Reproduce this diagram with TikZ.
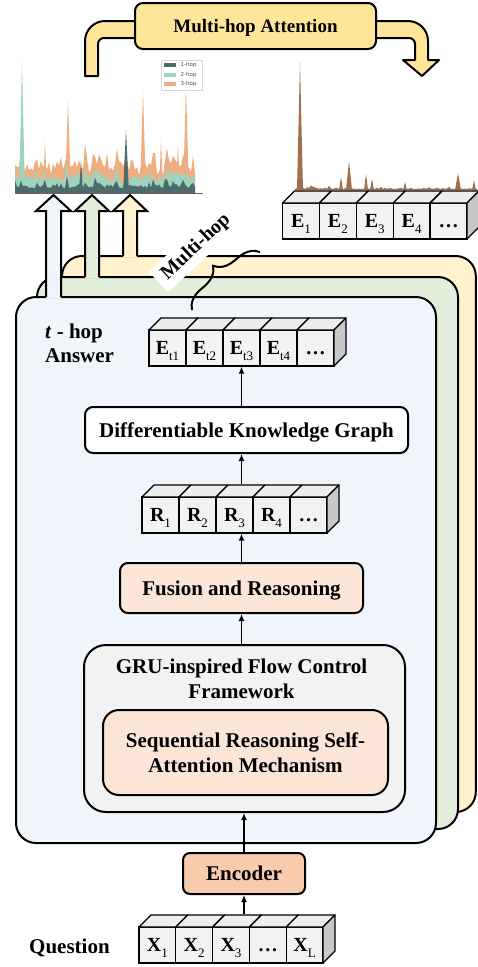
\documentclass[tikz,border=0pt]{standalone}
\usepackage{fontspec}
\setmainfont{Liberation Serif}
\newfontfamily\legfont{DejaVu Sans}
\usetikzlibrary{arrows.meta,decorations.pathreplacing,calc}
\definecolor{bandY}{HTML}{FFE599}
\definecolor{panY}{HTML}{FFF2CC}
\definecolor{panG}{HTML}{E2EFDA}
\definecolor{panB}{HTML}{EFF5FB}
\definecolor{gruF}{HTML}{F2F2F2}
\definecolor{peach}{HTML}{FBE5D6}
\definecolor{encF}{HTML}{F8CBAD}
\definecolor{hopA}{HTML}{4E6B6B}
\definecolor{hopB}{HTML}{9DD3BF}
\definecolor{hopC}{HTML}{EFAE80}
\definecolor{brn}{HTML}{A0704D}
\definecolor{cubefront}{HTML}{F2F2F2}
\definecolor{cubetop}{HTML}{EEEEEE}
\definecolor{cubeside}{HTML}{C8C8C8}
\newcommand\sbx[1]{\raisebox{-0.3em}{\fontsize{13}{13}\selectfont\mdseries #1}}
\newcommand\cuberow[5]{%
  \foreach \lab [count=\k] in {#5} {
    \node[cell, minimum width=#4pt] (#1-\k) at ({#2+(\k-0.5)*#4},{#3+18}) {\lab};
    \draw[cubeln, fill=cubetop] ({#2+(\k-1)*#4},#3) -- ++(12,-12) -- ++(#4,0) -- ++(-12,12) -- cycle;
  }
  \draw[cubeln, fill=cubeside] ({#2+5*#4},#3) -- ++(12,-12) -- ++(0,36) -- ++(-12,12) -- cycle;
}
\tikzset{
  cell/.style={draw, line width=1.3pt, fill=cubefront, minimum height=36pt, inner sep=0pt,
    font=\fontsize{20}{20}\selectfont\bfseries, text height=13.5pt, text depth=0pt},
  cubeln/.style={line width=1.3pt, line join=round},
  lbl/.style={font=\fontsize{21}{25}\selectfont\bfseries},
  bx/.style={draw, line width=2pt, rounded corners=8pt, inner sep=0pt, lbl, text height=14pt, text depth=0pt},
  panel/.style={draw, line width=2pt, rounded corners=20pt, inner sep=0pt},
  flow/.style={line width=1.9pt, -{Latex[length=7pt,width=6pt]}},
  hollow/.style={line width=2pt, line join=miter},
  legtxt/.style={font=\legfont\fontsize{5.5}{6}\selectfont, text=black!70, inner sep=0pt, anchor=west}
}
\begin{document}
\begin{tikzpicture}[x=1pt,y=-1pt]
\useasboundingbox (0,0) rectangle (477,967);

% ---- top multi-hop attention band
\draw[line width=2pt, fill=bandY, line join=round]
  (85,76) [rounded corners=20pt] -- (85,21) -- (428,21) [sharp corners] -- (428,60) -- (439,60) -- (422,76) -- (403,60) -- (415,60) [rounded corners=6pt] -- (415,38) -- (98,38) [sharp corners] -- (98,76) -- cycle;
\node[bx, fill=bandY, minimum width=241pt, minimum height=46pt, font=\fontsize{19}{22}\selectfont\bfseries, text height=13pt] (title) at (255.5,26) {Multi-hop Attention};

% ---- left stacked chart
\pgfmathsetseed{11}
\fill[hopC] (15,193) \foreach \i [evaluate=\i as \ha using {5+13*rnd*rnd}, evaluate=\i as \hb using {4+10*rnd}, evaluate=\i as \hc using {7+25*rnd*rnd}] in {0,...,90} { -- ({15+2*\i},{193-\ha-\hb-\hc}) } -- (195,193) -- cycle;
\fill[hopC] (65,193) -- (68,100) -- (71,193) -- cycle;
\fill[hopC] (140,193) -- (143,90) -- (146,193) -- cycle;
\fill[hopC] (183,193) -- (186,87) -- (189,193) -- cycle;
\fill[hopC] (43,193) -- (45,140) -- (47,193) -- cycle;
\fill[hopC] (159,193) -- (161,138) -- (163,193) -- cycle;
\fill[hopC] (176,193) -- (178,142) -- (180,193) -- cycle;
\pgfmathsetseed{11}
\fill[hopB] (15,193) \foreach \i [evaluate=\i as \ha using {5+13*rnd*rnd}, evaluate=\i as \hb using {4+10*rnd}, evaluate=\i as \hc using {7+25*rnd*rnd}] in {0,...,90} { -- ({15+2*\i},{193-\ha-\hb}) } -- (195,193) -- cycle;
\fill[hopB] (19,193) -- (22,63) -- (25,193) -- cycle;
\pgfmathsetseed{11}
\fill[hopA] (15,193) \foreach \i [evaluate=\i as \ha using {5+13*rnd*rnd}, evaluate=\i as \hb using {4+10*rnd}, evaluate=\i as \hc using {7+25*rnd*rnd}] in {0,...,90} { -- ({15+2*\i},{193-\ha}) } -- (195,193) -- cycle;
\fill[hopA] (123,193) -- (126,130) -- (129,193) -- cycle;
\fill[hopA] (79,193) -- (81,160) -- (83,193) -- cycle;
\draw[black!60, line width=0.8pt] (15,193) -- (203,193);
% legend
\node[draw=black!15, fill=white, line width=0.5pt, minimum width=41pt, minimum height=30pt, inner sep=0pt] (leg) at (181.5,75) {};
\fill[hopA] (163.5,63) rectangle (176,67);
\fill[hopB] (163.5,72.5) rectangle (176,76.5);
\fill[hopC] (163.5,82) rectangle (176,86);
\node[legtxt] (l1) at (180.5,65) {1-hop};
\node[legtxt] (l2) at (180.5,74.5) {2-hop};
\node[legtxt] (l3) at (180.5,84) {3-hop};

% ---- right chart
\pgfmathsetseed{3}
\fill[brn] (295,190) \foreach \i [evaluate=\i as \h using {1+4*rnd*rnd*rnd}] in {0,...,91} { -- ({295+2*\i},{190-\h}) } -- (477,190) -- cycle;
\fill[brn] (297,190) -- (300,62) -- (303,190) -- cycle;
\fill[brn] (346,190) -- (349,161) -- (352,190) -- cycle;
\fill[brn] (339,190) -- (341,177) -- (343,190) -- cycle;
\fill[brn] (364,190) -- (366,174) -- (368,190) -- cycle;
\fill[brn] (370,190) -- (372,179) -- (374,190) -- cycle;
\fill[brn] (403,190) -- (405,182) -- (407,190) -- cycle;
\fill[brn] (455,190) -- (458,173) -- (461,190) -- cycle;
\fill[brn] (472,190) -- (474,180) -- (476,190) -- cycle;

% ---- E row
\cuberow{e}{282.5}{203}{36.9}{E\sbx{1}, E\sbx{2}, E\sbx{3}, E\sbx{4}, …}

% ---- stacked panels with hollow arrows
\node[panel, fill=panY, minimum width=413.8pt, minimum height=556pt] (pY) at (268.9,534) {};
\fill[panY] (123,257.5) -- (123,211) -- (113,211) -- (130,195) -- (147,211) -- (137,211) -- (137,257.5) -- cycle;
\draw[hollow] (123,256) -- (123,211) -- (113,211) -- (130,195) -- (147,211) -- (137,211) -- (137,256);
\node[panel, fill=panG, minimum width=421pt, minimum height=552pt] (pG) at (247.5,553) {};
\fill[panG] (85,278.5) -- (85,211) -- (75,211) -- (92,195) -- (109,211) -- (99,211) -- (99,278.5) -- cycle;
\draw[hollow] (85,277) -- (85,211) -- (75,211) -- (92,195) -- (109,211) -- (99,211) -- (99,277);
\node[panel, fill=panB, minimum width=420pt, minimum height=546pt] (pB) at (226,570) {};
\fill[panB] (46,298.5) -- (46,211) -- (36,211) -- (53.5,195) -- (71,211) -- (61,211) -- (61,298.5) -- cycle;
\draw[hollow] (46,297) -- (46,211) -- (36,211) -- (53.5,195) -- (71,211) -- (61,211) -- (61,297);

% ---- multi-hop label and brace
\node[rotate=43, fill=white, inner xsep=8pt, inner ysep=5pt, font=\fontsize{20}{20}\selectfont\bfseries] (mh) at (196,247) {Multi-hop};
\draw[line width=2pt, decorate, decoration={brace, amplitude=20pt, aspect=0.5}] (192,310) -- (260,252);

% ---- inside blue panel
\node[lbl, align=left, anchor=north west, inner sep=0pt, font=\fontsize{21}{24}\selectfont\bfseries] (thop) at (45,323.5) {\textit{t} - hop\\Answer};
\cuberow{et}{149}{330}{37}{E\sbx{t1}, E\sbx{t2}, E\sbx{t3}, E\sbx{t4}, …}
\node[bx, fill=white, minimum width=323pt, minimum height=46pt] (dkg) at (246.5,430) {Differentiable Knowledge Graph};
\cuberow{r}{142}{497}{37}{R\sbx{1}, R\sbx{2}, R\sbx{3}, R\sbx{4}, …}
\node[bx, fill=peach, minimum width=243pt, minimum height=50pt] (fus) at (241.5,588) {Fusion and Reasoning};
\node[draw, line width=2pt, rounded corners=22pt, fill=gruF, minimum width=321pt, minimum height=167pt] (gru) at (244.5,728.5) {};
\node[lbl, align=center, anchor=north, inner sep=0pt] (grut) at (241.5,658.5) {GRU-inspired Flow Control\\Framework};
\node[draw, line width=2pt, rounded corners=16pt, fill=peach, minimum width=285pt, minimum height=85pt, inner sep=0pt, lbl, align=center] (srsa) at (245.5,752.5) {Sequential Reasoning Self-\\Attention Mechanism};

\draw[flow] (fus.north |- dkg.north) -- (fus.north |- et-3.south);
\draw[flow] ($(fus.north |- r-3.north)+(0,-12)$) -- (fus.north |- dkg.south);
\draw[flow] (fus.north) -- (fus.north |- r-3.south);
\draw[flow] (fus.south |- gru.north) -- (fus.south);

% ---- encoder and question
\node[bx, fill=encF, rounded corners=7pt, minimum width=122pt, minimum height=41pt] (enc) at (244,873.5) {Encoder};
\cuberow{x}{139}{927}{36.8}{X\sbx{1}, X\sbx{2}, X\sbx{3}, …, X\sbx{L}}
\node[lbl, anchor=base west, inner sep=0pt] (q) at (29,953) {Question};
\draw[flow] (enc.north) -- (enc.north |- gru.south);
\draw[flow] ($(enc.south |- x-3.north)+(0,-12)$) -- (enc.south);
\end{tikzpicture}
\end{document}
